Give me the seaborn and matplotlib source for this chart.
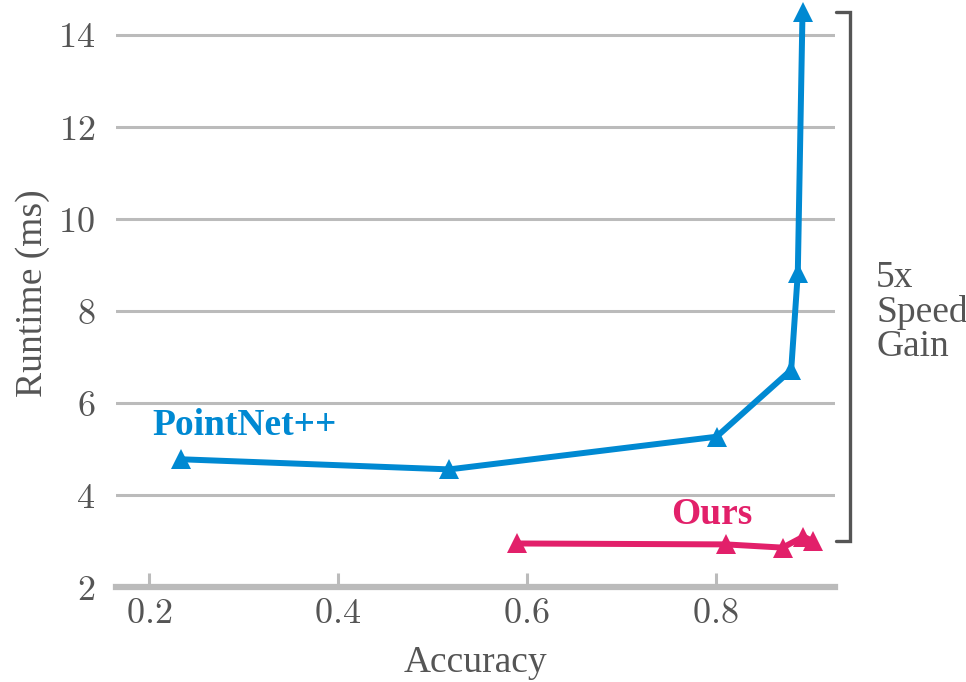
import numpy as np
import pandas as pd
import matplotlib
matplotlib.use("Agg")
import matplotlib.pyplot as plt
import seaborn as sns
from matplotlib.ticker import FuncFormatter

# data
pointnet_acc = [0.234, 0.518, 0.801, 0.880, 0.887, 0.892]
pointnet_rt = [4.78, 4.56, 5.27, 6.72, 8.82, 14.5]
ours_acc = [0.590, 0.811, 0.871, 0.893, 0.903]
ours_rt = [2.95, 2.93, 2.86, 3.10, 3.00]

blue = '#0089D2'
pink = '#E2206A'
grid_gray = '#BBBBBB'
text_gray = '#555555'

sns.set_style("white")
plt.rcParams['font.family'] = ['Liberation Serif', 'DejaVu Serif']
plt.rcParams['mathtext.fontset'] = 'cm'

fig = plt.figure(figsize=(9.66, 6.82), dpi=100)
ax = fig.add_axes([0.12, 0.139, 0.744, 0.861])

sns.lineplot(x=pointnet_acc, y=pointnet_rt, sort=False, ax=ax, color=blue,
             linewidth=4.3, marker='^', markersize=15, markeredgewidth=0,
             zorder=3)
sns.lineplot(x=ours_acc, y=ours_rt, sort=False, ax=ax, color=pink,
             linewidth=4.3, marker='^', markersize=15, markeredgewidth=0,
             zorder=3)

ax.set_xlim(0.165, 0.926)
ax.set_ylim(2, 14.76)
ax.set_xticks([0.2, 0.4, 0.6, 0.8])
ax.set_yticks([2, 4, 6, 8, 10, 12, 14])
fmt = FuncFormatter(lambda v, p: f"${v:g}$")
ax.xaxis.set_major_formatter(fmt)
ax.yaxis.set_major_formatter(fmt)

# horizontal grid lines
ax.yaxis.grid(True, color=grid_gray, linewidth=2.2, zorder=0)
ax.xaxis.grid(False)
for s in ['top', 'right', 'left']:
    ax.spines[s].set_visible(False)
ax.spines['bottom'].set_color(grid_gray)
ax.spines['bottom'].set_linewidth(4.5)
ax.spines['bottom'].set_zorder(1)

ax.tick_params(axis='x', bottom=True, direction='in', length=10, width=2.2,
               color=grid_gray, labelsize=26, labelcolor=text_gray, pad=8)
ax.tick_params(axis='y', left=False, length=0, labelsize=26,
               labelcolor=text_gray, pad=15)

ax.set_xlabel('Accuracy', fontsize=27, color=text_gray, labelpad=10)
ax.set_ylabel('Runtime (ms)', fontsize=27, color=text_gray, labelpad=6)

ax.text(0.204, 5.52, 'PointNet++', color=blue, fontsize=27, fontweight='bold',
        ha='left', va='center')
ax.text(0.796, 3.59, 'Ours', color=pink, fontsize=27, fontweight='bold',
        ha='center', va='center')

# speed gain bracket
bx = 0.942
ax.plot([0.927, bx, bx, 0.927], [14.49, 14.49, 3.0, 3.0], color=text_gray,
        linewidth=2.4, clip_on=False, solid_joinstyle='miter')
ax.text(0.970, 7.98, '5x\nSpeed\nGain', color=text_gray, fontsize=27,
        ha='left', va='center', linespacing=1.0)

fig.savefig('out.png', dpi=100)
